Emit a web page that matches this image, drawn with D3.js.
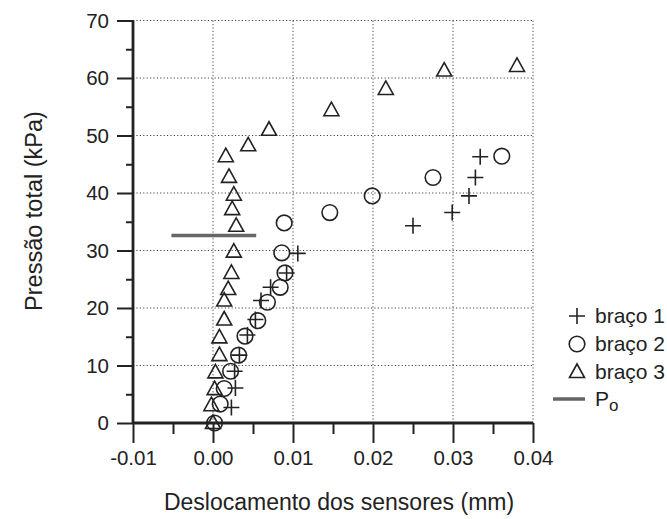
<!DOCTYPE html>
<html>
<head>
<meta charset="utf-8">
<script src="https://cdn.jsdelivr.net/npm/d3@7"></script>
<style>
  body { margin: 0; background: #fff; }
  text { font-family: "Liberation Sans", Arial, sans-serif; fill: #222; }
</style>
</head>
<body>
<div id="chart"></div>
<script>
'use strict';

// braço 1 (+)
const braco1X = [0.0023, 0.0028, 0.0027, 0.0033, 0.0043, 0.0053, 0.0060, 0.0072, 0.0092, 0.0106, 0.0250, 0.0299, 0.0320, 0.0328, 0.0334];
const braco1Y = [2.7, 6.1, 9.0, 11.8, 15.3, 18.0, 21.3, 23.6, 26.1, 29.5, 34.3, 36.6, 39.5, 42.7, 46.3];

// braço 2 (o)
const braco2X = [0.0002, 0.0009, 0.0014, 0.0022, 0.0032, 0.0040, 0.0056, 0.0068, 0.0084, 0.0090, 0.0086, 0.0089, 0.0146, 0.0199, 0.0275, 0.0361];
const braco2Y = [0.0, 3.3, 6.0, 9.0, 11.8, 15.1, 17.8, 21.0, 23.6, 26.1, 29.6, 34.8, 36.6, 39.5, 42.7, 46.4];

// braço 3 (triângulo)
const braco3X = [0.0000, -0.0002, 0.0002, 0.0003, 0.0008, 0.0008, 0.0014, 0.0014, 0.0019, 0.0023, 0.0026, 0.0029, 0.0024, 0.0026, 0.0020, 0.0016, 0.0044, 0.0070, 0.0148, 0.0216, 0.0289, 0.0380];
const braco3Y = [0.0, 3.1, 5.9, 8.8, 11.8, 14.9, 18.0, 21.3, 23.3, 26.1, 29.8, 34.3, 37.2, 39.7, 42.8, 46.4, 48.3, 51.0, 54.4, 58.1, 61.3, 62.1];

// Po
const poX = [-0.0052, 0.0054];
const poY = 32.6;

const xTicks = [-0.01, 0.00, 0.01, 0.02, 0.03, 0.04];
const yTicks = [0, 10, 20, 30, 40, 50, 60, 70];

const width = 667, height = 519;

const svg = d3.select('#chart').append('svg')
    .attr('width', width)
    .attr('height', height);

const x = d3.scaleLinear().domain([-0.01, 0.04]).range([133, 533]);
const y = d3.scaleLinear().domain([0, 70]).range([423, 20.5]);

// grid
const grid = svg.append('g').attr('class', 'grid');
grid.selectAll('.gx').data(xTicks.slice(1)).enter().append('line')
    .attr('x1', d => x(d)).attr('x2', d => x(d))
    .attr('y1', y(0)).attr('y2', y(70))
    .style('stroke', '#444')
    .style('stroke-width', 1)
    .style('stroke-dasharray', '1.2,2.2');
grid.selectAll('.gy').data(yTicks.slice(1)).enter().append('line')
    .attr('x1', x(-0.01)).attr('x2', x(0.04))
    .attr('y1', d => y(d)).attr('y2', d => y(d))
    .style('stroke', '#444')
    .style('stroke-width', 1)
    .style('stroke-dasharray', '1.2,2.2');

// axes
const fmtX = d => d3.format('.2f')(d).replace('\u2212', '-');
const xAxis = d3.axisBottom(x).tickValues(xTicks).tickFormat(fmtX).tickSize(20).tickPadding(7);
const xMinor = d3.axisBottom(x).tickValues([-0.005, 0.005, 0.015, 0.025, 0.035]).tickFormat('').tickSize(11);
const yAxis = d3.axisLeft(y).tickValues(yTicks).tickFormat(d3.format('d')).tickSize(16).tickPadding(8);
const yMinor = d3.axisLeft(y).tickValues([5, 15, 25, 35, 45, 55, 65]).tickFormat('').tickSize(7);

function styleAxis(g) {
    g.select('.domain').remove();
    g.selectAll('.tick line').style('stroke', '#222').style('stroke-width', 2);
    g.selectAll('.tick text').style('font-size', '20.5px').style('fill', '#222')
        .style('font-family', '"Liberation Sans", Arial, sans-serif');
}

svg.append('g').attr('transform', 'translate(0,' + y(0) + ')').call(xAxis).call(styleAxis);
svg.append('g').attr('transform', 'translate(0,' + y(0) + ')').call(xMinor).call(styleAxis);
svg.append('g').attr('transform', 'translate(' + x(-0.01) + ',0)').call(yAxis).call(styleAxis);
svg.append('g').attr('transform', 'translate(' + x(-0.01) + ',0)').call(yMinor).call(styleAxis);

// axis lines
svg.append('line')
    .attr('x1', x(-0.01)).attr('x2', x(0.04))
    .attr('y1', y(0)).attr('y2', y(0))
    .style('stroke', '#222').style('stroke-width', 2.8);
svg.append('line')
    .attr('x1', x(-0.01)).attr('x2', x(-0.01))
    .attr('y1', y(0) + 1).attr('y2', y(70))
    .style('stroke', '#222').style('stroke-width', 2.8);

// Po line
svg.append('line')
    .attr('x1', x(poX[0])).attr('x2', x(poX[1]))
    .attr('y1', y(poY)).attr('y2', y(poY))
    .style('stroke', '#666').style('stroke-width', 3.5);

const markerStroke = '#222';

function drawCross(g, cx, cy) {
    g.append('path')
        .attr('d', 'M' + (cx - 8) + ',' + cy + 'H' + (cx + 8) + 'M' + cx + ',' + (cy - 8) + 'V' + (cy + 8))
        .style('stroke', markerStroke).style('stroke-width', 1.6).style('fill', 'none');
}
function drawCircle(g, cx, cy) {
    g.append('circle').attr('cx', cx).attr('cy', cy).attr('r', 7.8)
        .style('stroke', markerStroke).style('stroke-width', 1.6).style('fill', 'none');
}
function drawTriangle(g, cx, cy) {
    g.append('path')
        .attr('d', 'M' + cx + ',' + (cy - 8) + 'L' + (cx + 7.5) + ',' + (cy + 5.5) + 'L' + (cx - 7.5) + ',' + (cy + 5.5) + 'Z')
        .style('stroke', markerStroke).style('stroke-width', 1.6).style('fill', 'none')
        .style('stroke-linejoin', 'miter');
}

const pts = svg.append('g').attr('class', 'points');
braco3X.forEach(function (v, i) { drawTriangle(pts, x(v), y(braco3Y[i])); });
braco2X.forEach(function (v, i) { drawCircle(pts, x(v), y(braco2Y[i])); });
braco1X.forEach(function (v, i) { drawCross(pts, x(v), y(braco1Y[i])); });

// axis titles
svg.append('text')
    .text('Deslocamento dos sensores (mm)')
    .attr('x', 339).attr('y', 510)
    .style('font-size', '23px')
    .style('text-anchor', 'middle');

svg.append('text')
    .text('Pressão total (kPa)')
    .attr('transform', 'translate(42,211) rotate(-90)')
    .style('font-size', '23.5px')
    .style('text-anchor', 'middle');

// legend
const legend = svg.append('g').attr('class', 'legend');
const legX = 577;
const legItems = [
    { label: 'braço 1', y: 316, draw: drawCross },
    { label: 'braço 2', y: 344, draw: drawCircle },
    { label: 'braço 3', y: 372, draw: drawTriangle }
];
legItems.forEach(function (item) {
    item.draw(legend, legX, item.y);
    legend.append('text')
        .text(item.label)
        .attr('x', legX + 18).attr('y', item.y + 7)
        .style('font-size', '21px');
});
legend.append('line')
    .attr('x1', 553).attr('x2', 585)
    .attr('y1', 399).attr('y2', 399)
    .style('stroke', '#666').style('stroke-width', 3.5);
const poText = legend.append('text')
    .attr('x', legX + 18).attr('y', 406)
    .style('font-size', '21px');
poText.append('tspan').text('P');
poText.append('tspan').text('o').attr('dy', 5).style('font-size', '17px');
</script>
</body>
</html>
